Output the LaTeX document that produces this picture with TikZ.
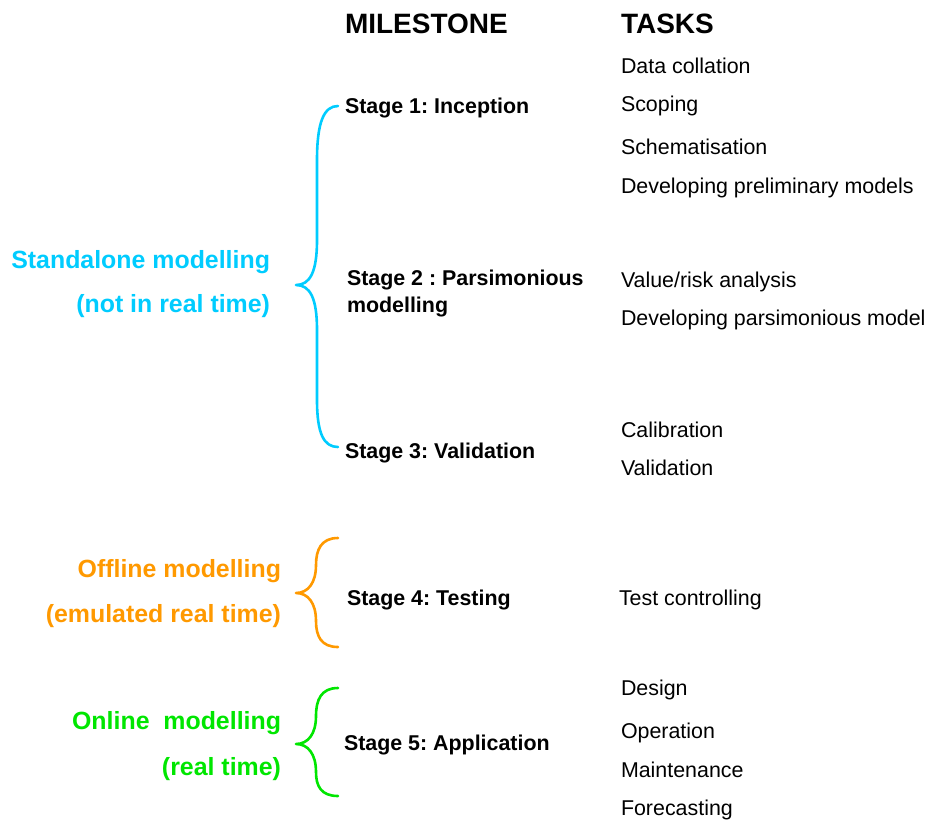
\documentclass[tikz,border=0pt]{standalone}
\usepackage{fontspec}
\setmainfont{Liberation Sans}
\frenchspacing
\definecolor{bcyan}{RGB}{0,204,255}
\definecolor{borange}{RGB}{255,153,0}
\definecolor{bgreen}{RGB}{0,230,0}
\begin{document}
\begin{tikzpicture}[x=1pt,y=-1pt,
  every node/.style={inner sep=0pt,outer sep=0pt},
  header/.style={anchor=base west,font=\fontsize{28}{32}\selectfont\bfseries},
  stagetxt/.style={anchor=base west,font=\fontsize{21.4}{26}\selectfont\bfseries,align=left},
  tasktxt/.style={anchor=base west,font=\fontsize{21.4}{26}\selectfont},
  grouptxt/.style={anchor=base east,font=\fontsize{24.9}{28}\selectfont\bfseries},
  bracepath/.style={line width=2.6pt,line cap=round,line join=round}]
\useasboundingbox (0,0) rectangle (933,822);
% headers
\node[header] (hm) at (345,33) {MILESTONE};
\node[header] (ht) at (621,33) {TASKS};
% stages
\node[stagetxt] (s1) at (345,113) {Stage 1: Inception};
\node[stagetxt] (s2) at (347,285) {Stage 2 : Parsimonious};
\node[stagetxt] (s2b) at (347,312) {modelling};
\node[stagetxt] (s3) at (345,458) {Stage 3: Validation};
\node[stagetxt] (s4) at (347,605) {Stage 4: Testing};
\node[stagetxt] (s5) at (344,750) {Stage 5: Application};
% tasks
\node[tasktxt] (t1) at (621,73) {Data collation};
\node[tasktxt] (t2) at (621,111) {Scoping};
\node[tasktxt] (t3) at (621,154) {Schematisation};
\node[tasktxt] (t4) at (621,193) {Developing preliminary models};
\node[tasktxt] (t5) at (621,287) {Value/risk analysis};
\node[tasktxt] (t6) at (621,325) {Developing parsimonious model};
\node[tasktxt] (t7) at (621,437) {Calibration};
\node[tasktxt] (t8) at (621,475) {Validation};
\node[tasktxt] (t9) at (619,605) {Test controlling};
\node[tasktxt] (t10) at (621,695) {Design};
\node[tasktxt] (t11) at (621,738) {Operation};
\node[tasktxt] (t12) at (621,777) {Maintenance};
\node[tasktxt] (t13) at (621,815) {Forecasting};
% group labels
\node[grouptxt,text=bcyan] (g1) at (270,268) {Standalone modelling};
\node[grouptxt,text=bcyan] (g1b) at (270,312) {(not in real time)};
\node[grouptxt,text=borange] (g2) at (281,577) {Offline modelling};
\node[grouptxt,text=borange] (g2b) at (281,622) {(emulated real time)};
\node[grouptxt,text=bgreen] (g3) at (281,729) {Online\ \ modelling};
\node[grouptxt,text=bgreen] (g3b) at (281,775) {(real time)};
% braces
\draw[bracepath,bcyan] (338,106) .. controls (324,106) and (317,122) .. (317,160)
  -- (317,240) .. controls (317,272) and (310,285) .. (296,285)
  .. controls (310,285) and (317,298) .. (317,330)
  -- (317,400) .. controls (317,434) and (324,447) .. (338,447);
\draw[bracepath,borange] (338,538) .. controls (321,538) and (316,550) .. (316,565)
  .. controls (316,583) and (308,593) .. (296,593)
  .. controls (308,593) and (316,603) .. (316,621)
  .. controls (316,636) and (321,647) .. (338,647);
\draw[bracepath,bgreen] (338,688) .. controls (321,688) and (316,700) .. (316,716)
  .. controls (316,734) and (308,744) .. (296,744)
  .. controls (308,744) and (316,754) .. (316,772)
  .. controls (316,786) and (321,796) .. (338,796);
\end{tikzpicture}
\end{document}
